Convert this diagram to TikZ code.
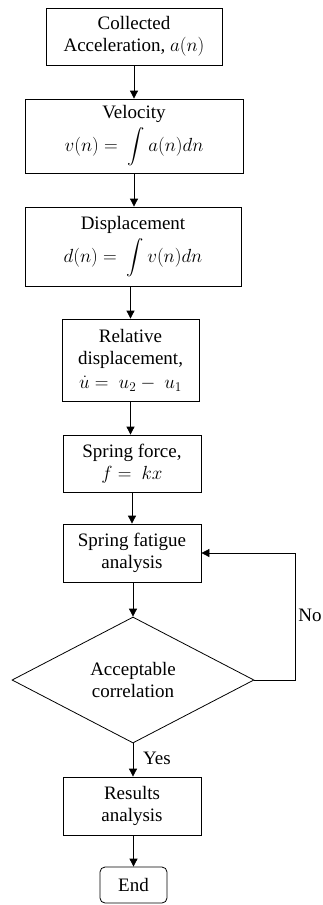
\documentclass[tikz,border=0pt]{standalone}
\usepackage{fix-cm}
\usepackage{fontspec,amsmath}
\setmainfont{Liberation Serif}
\usetikzlibrary{arrows.meta,shapes.geometric}
\tikzset{
box/.style={draw,line width=.8pt,align=center,inner sep=1pt},
decision/.style={draw,diamond,line width=.8pt,align=center,inner sep=0pt,minimum width=242pt,minimum height=126pt},
term/.style={draw,rounded corners=5pt,line width=.8pt,minimum width=67pt,minimum height=36pt},
arr/.style={line width=.8pt,-{Triangle[length=8pt,width=8pt]}}
}
\begin{document}
\begin{tikzpicture}[x=1pt,y=-1pt,font=\rmfamily\fontsize{19}{22}\selectfont]
\useasboundingbox(0,0)rectangle(323,905);
\node[box,minimum width=176pt,minimum height=57pt](acc)at(134,36.5){Collected\\Acceleration, $a(n)$};
\node[box,minimum width=218pt,minimum height=74pt](vel)at(134,136){Velocity\\[4pt]$v(n)=\ \displaystyle\int a(n)dn$};
\node[box,minimum width=216pt,minimum height=79pt](disp)at(133,246.5){Displacement\\[4pt]$d(n)=\ \displaystyle\int v(n)dn$};
\node[box,minimum width=137pt,minimum height=82pt](rel)at(130.5,360){Relative\\displacement,\\[2pt]$\dot{u}=\ u_2-\ u_1$};
\node[box,minimum width=138pt,minimum height=57pt](spr)at(132,463.5){Spring force,\\$f=\ kx$};
\node[box,minimum width=138pt,minimum height=58pt](fat)at(132,553){Spring fatigue\\analysis};
\node[decision](dia)at(133,680){Acceptable\\correlation};
\node[box,minimum width=138pt,minimum height=58pt](res)at(132,806){Results\\analysis};
\node[term](end)at(133.5,885){End};
\node(yes)at(157,758){Yes};
\node(no)at(310,615){No};
\draw[arr](acc)--(acc|-vel.north);
\draw[arr](vel)--(vel|-disp.north);
\draw[arr](disp.south-|rel)--(rel);
\draw[arr](rel)--(rel|-spr.north);
\draw[arr](spr)--(spr|-fat.north);
\draw[arr](fat.south-|dia)--(dia);
\draw[arr](dia)--(dia|-res.north);
\draw[arr](res.south-|end)--(end);
\draw[arr](dia.east)--++(41,0)|-(fat.east);
\end{tikzpicture}
\end{document}
